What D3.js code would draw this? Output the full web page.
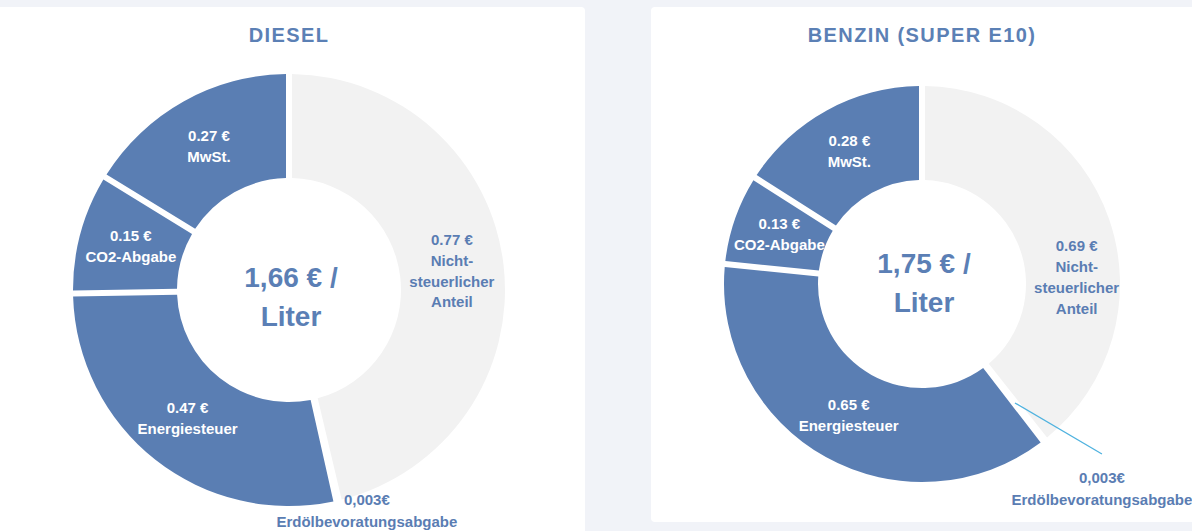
<!DOCTYPE html>
<html>
<head>
<meta charset="utf-8">
<script src="https://cdn.jsdelivr.net/npm/d3@7"></script>
<style>
  html, body { margin: 0; padding: 0; background: #f1f3f8; }
  svg { display: block; font-family: "Liberation Sans", Arial, sans-serif; font-weight: 700; }
</style>
</head>
<body>
<svg id="chart" width="1192" height="531"></svg>
<script>
// Data
const categories = ['Nicht-steuerlicher Anteil', 'Erdölbevoratungsabgabe', 'Energiesteuer', 'CO2-Abgabe', 'MwSt.'];
const categoryLines = [['Nicht-', 'steuerlicher', 'Anteil'], ['Erdölbevoratungsabgabe'], ['Energiesteuer'], ['CO2-Abgabe'], ['MwSt.']];
const dieselValues = [0.77, 0.003, 0.47, 0.15, 0.27];
const benzinValues = [0.69, 0.003, 0.65, 0.13, 0.28];
const dieselValueLabels = ['0.77 €', '0,003€', '0.47 €', '0.15 €', '0.27 €'];
const benzinValueLabels = ['0.69 €', '0,003€', '0.65 €', '0.13 €', '0.28 €'];
const dieselTotal = ['1,66 € /', 'Liter'];
const benzinTotal = ['1,75 € /', 'Liter'];
const titles = ['DIESEL', 'BENZIN (SUPER E10)'];

const BLUE = '#5a7eb3';
const GREY = '#f2f2f2';
const TEXT_BLUE = '#5a7db3';
const LINE_H = 21;

const svg = d3.select('#chart');

// Cards
svg.append('rect').attr('x', -6).attr('y', 7).attr('width', 591).attr('height', 540)
    .attr('rx', 4).attr('fill', '#fff');
svg.append('rect').attr('x', 651).attr('y', 7).attr('width', 560).attr('height', 515)
    .attr('rx', 4).attr('fill', '#fff');

const charts = [
    { title: titles[0], values: dieselValues, valueLabels: dieselValueLabels, total: dieselTotal,
      cx: 289, cy: 290, rOuter: 216, rInner: 112, totalDy: -3,
      callout: { dx: 41, dy: 55, leader: false }, shift: {} },
    { title: titles[1], values: benzinValues, valueLabels: benzinValueLabels, total: benzinTotal,
      cx: 922, cy: 284, rOuter: 198, rInner: 104, totalDy: -11,
      callout: { dx: 87, dy: 80, leader: true }, shift: { 0: [12, 43] } }
];

const colorFor = (i) => i === 0 ? GREY : (i === 1 ? '#ffffff' : BLUE);

charts.forEach(c => {
    const g = svg.append('g');

    g.append('text')
        .attr('x', c.cx).attr('y', 42)
        .attr('text-anchor', 'middle')
        .style('font-size', '20px')
        .style('letter-spacing', '1.4px')
        .style('fill', '#5b80b5')
        .text(c.title);

    const pie = d3.pie().sort(null).value(d => d.value);
    const arcs = pie(c.values.map((v, i) => ({ value: v, i })));

    const arc = d3.arc()
        .innerRadius(c.rInner)
        .outerRadius(c.rOuter)
        .padRadius(200)
        .padAngle(0.03);
    const centroidArc = d3.arc().innerRadius(c.rInner).outerRadius(c.rOuter);

    const dg = g.append('g').attr('transform', `translate(${c.cx},${c.cy})`);

    dg.selectAll('path.slice')
        .data(arcs)
        .enter()
        .append('path')
        .attr('class', 'slice')
        .attr('fill', d => colorFor(d.data.i))
        .attr('d', arc);

    // Labels inside slices (all except the tiny one)
    arcs.forEach(d => {
        const i = d.data.i;
        if (i === 1) return;
        const [x0, y0] = centroidArc.centroid(d);
        const s = c.shift[i] || [0, 0];
        const lines = [c.valueLabels[i]].concat(categoryLines[i]);
        const fill = i === 0 ? TEXT_BLUE : '#ffffff';
        const t = dg.append('text')
            .attr('text-anchor', 'middle')
            .style('font-size', '15px')
            .style('fill', fill);
        lines.forEach((ln, k) => {
            t.append('tspan')
                .attr('x', x0 + s[0])
                .attr('y', y0 + s[1] + (k - (lines.length - 1) / 2) * LINE_H + 5)
                .text(ln);
        });
    });

    // Callout for the tiny slice
    const tiny = arcs[1];
    const [tx, ty] = centroidArc.centroid(tiny);
    const lx = tx + c.callout.dx;
    const ly = ty + c.callout.dy;
    if (c.callout.leader) {
        dg.append('line')
            .attr('x1', tx).attr('y1', ty)
            .attr('x2', lx).attr('y2', ly - 29)
            .attr('stroke', '#4fb2df')
            .attr('stroke-width', 1.3);
    }
    const ct = dg.append('text')
        .attr('text-anchor', 'middle')
        .style('font-size', '15px')
        .style('fill', TEXT_BLUE);
    [c.valueLabels[1], categoryLines[1][0]].forEach((ln, k) => {
        ct.append('tspan').attr('x', lx).attr('y', ly + k * 22).text(ln);
    });

    // Centre total
    const tt = dg.append('text')
        .attr('text-anchor', 'middle')
        .style('font-size', '28px')
        .style('fill', '#5b7fb5');
    c.total.forEach((ln, k) => {
        tt.append('tspan').attr('x', 2).attr('y', c.totalDy + k * 38.5).text(ln);
    });
});
</script>
</body>
</html>
